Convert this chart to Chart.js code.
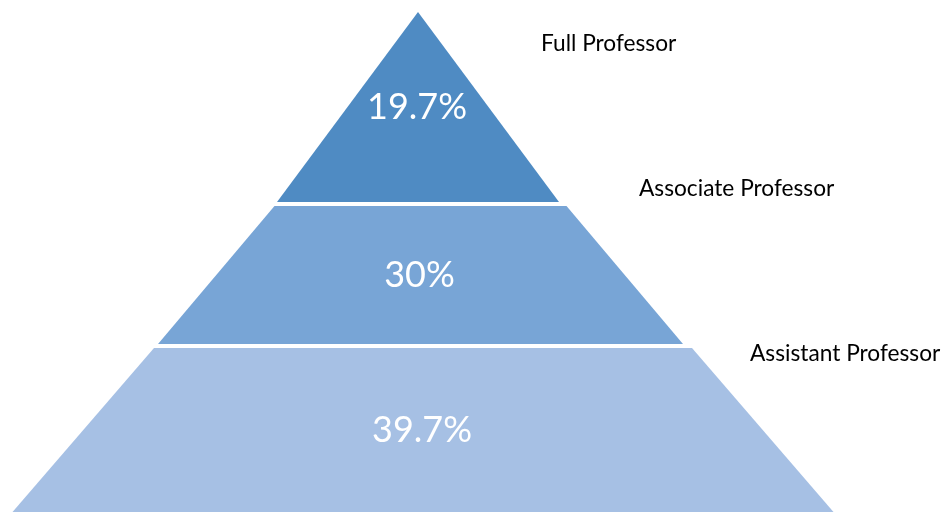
<!DOCTYPE html>
<html>
<head>
<meta charset="utf-8">
<script src="https://cdn.jsdelivr.net/npm/chart.js@4/dist/chart.umd.min.js"></script>
<style>
  html, body { margin: 0; padding: 0; background: #ffffff; }
  #wrap { width: 943px; height: 513px; }
</style>
</head>
<body>
<div id="wrap"><canvas id="c" width="943" height="513"></canvas></div>
<script>
// ---- data ----
const categories = ['Full Professor', 'Associate Professor', 'Assistant Professor'];
const shares = [19.7, 30, 39.7];
const shareLabels = shares.map(v => v + '%');

// ---- layout (diagram geometry, in chart units) ----
const tierTop = [12, 206, 348];
const tierBottom = [202, 344, 512];
const tierCenter = [418, 420.5, 423];
const tierTopHalf = [0, 146, 269];
const tierBottomHalf = [141, 262.5, 410.5];
const labelX = [541, 639, 750];
const labelY = [44, 189, 354];
const tierColors = ['#4f8bc3', '#78a5d6', '#a6c0e4'];

function tierPolygon(i) {
  const c = tierCenter[i];
  return [
    { x: c - tierBottomHalf[i], y: tierBottom[i] },
    { x: c + tierBottomHalf[i], y: tierBottom[i] },
    { x: c + tierTopHalf[i], y: tierTop[i] },
    { x: c - tierTopHalf[i], y: tierTop[i] },
    { x: c - tierBottomHalf[i], y: tierBottom[i] }
  ];
}

const labelPlugin = {
  id: 'pyramidLabels',
  afterDatasetsDraw(chart) {
    const { ctx, scales: { x, y } } = chart;
    ctx.save();
    ctx.textBaseline = 'middle';
    categories.forEach((cat, i) => {
      // percentage inside tier
      ctx.fillStyle = '#ffffff';
      ctx.font = '36px Lato, "Open Sans", sans-serif';
      ctx.textAlign = 'center';
      const cx = x.getPixelForValue(tierCenter[i] - 1);
      const cy = y.getPixelForValue((tierTop[i] + tierBottom[i]) / 2);
      ctx.fillText(shareLabels[i], cx, cy);
      // category label
      ctx.fillStyle = '#000000';
      ctx.font = '22.7px Lato, "Open Sans", sans-serif';
      ctx.textAlign = 'left';
      ctx.fillText(cat, x.getPixelForValue(labelX[i]), y.getPixelForValue(labelY[i]));
    });
    ctx.restore();
  }
};

new Chart(document.getElementById('c'), {
  type: 'scatter',
  data: {
    datasets: categories.map((cat, i) => ({
      label: cat,
      data: tierPolygon(i),
      showLine: true,
      fill: 'shape',
      backgroundColor: tierColors[i],
      borderColor: tierColors[i],
      borderWidth: 0,
      pointRadius: 0,
      pointHoverRadius: 0,
      tension: 0
    }))
  },
  options: {
    responsive: false,
    animation: false,
    layout: { padding: 0 },
    plugins: { legend: { display: false }, tooltip: { enabled: false } },
    scales: {
      x: { type: 'linear', display: false, min: 0, max: 943 },
      y: { type: 'linear', display: false, min: 0, max: 513, reverse: true }
    }
  },
  plugins: [labelPlugin]
});
</script>
</body>
</html>
